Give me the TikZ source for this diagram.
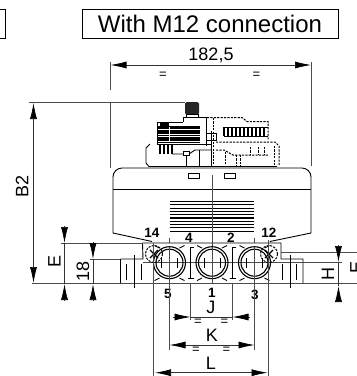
\documentclass[tikz,border=0pt]{standalone}
\usepackage{fontspec}
\setmainfont{Liberation Sans}
\usetikzlibrary{arrows.meta}
\tikzset{
    dimline/.style={line width=0.7pt, black!80},
    extline/.style={line width=0.7pt, black!70},
    partline/.style={line width=0.9pt, black},
    hiddenline/.style={line width=1pt, black, dash pattern=on 2.2pt off 1.2pt},
    dimtip/.style={-{Latex[length=16pt,width=7pt,black]}},
    bothtips/.style={{Latex[length=16pt,width=7pt,black]}-{Latex[length=16pt,width=7pt,black]}},
    dimlabel/.style={inner sep=0pt, font=\fontsize{18}{19}\selectfont},
    eqlabel/.style={inner sep=0pt, font=\fontsize{13}{14}\selectfont},
    portlabel/.style={inner sep=0pt, font=\fontsize{13.5}{14}\selectfont\bfseries}
}
\begin{document}
\begin{tikzpicture}[x=1pt, y=-1pt]
    \useasboundingbox (0,0) rectangle (357,376);
    % Title boxes
    \draw[partline] (-5,9) rectangle (5,38);
    \node[draw, line width=0.9pt, minimum width=256pt, minimum height=29pt, inner sep=0pt, font=\fontsize{24}{26}\selectfont] (title) at (210,23.5) {With M12 connection};
    % Housing
    \draw[partline] (152,241.5) -- (113,233) [rounded corners=9pt] -- (113,168) -- (311,168) [sharp corners] -- (311,233) -- (270,241.5);
    \draw[partline] (113,189.5) -- (311,189.5);
    \draw[partline] (188,173) rectangle (199,178);
    \draw[partline] (224,173) rectangle (235,178);
    \foreach \y in {201.5,204.8,...,232} {
        \draw[line width=1.1pt] (170,\y) -- (254,\y);
    }
    \draw[extline] (212,175) -- (212,247);
    % Actuator
    \fill[black!85, rounded corners=1.5pt] (185,102) rectangle (199,114.5);
    \draw[partline] (186,114.5) rectangle (198,117.5);
    \draw[partline] (183,122) -- (183,117.5) -- (206,117.5) -- (206,146);
    \draw[partline] (157,144) -- (157,122) -- (183,122);
    \foreach \y in {127,128.7,...,143} {
        \draw[line width=1.3pt] (157,\y) -- (200,\y);
    }
    \fill (160,123) rectangle (169,126);
    \draw[white, line width=0.8pt] (169,127) -- (169,142);
    \draw[partline] (157,144) -- (212,144);
    \draw[partline] (150,144) -- (146,148) -- (146,163) -- (149,166.5) -- (277,166.5);
    \foreach \x in {160,164,168,172} {
        \draw[line width=1.3pt] (\x,144) -- (\x,154);
    }
    \draw[partline] (172,154) -- (183,154) (189,154) -- (195,150) -- (211,150);
    \draw[partline] (183,151) rectangle (189,155);
    \draw[partline] (186,155) -- (186,166.5) (199,150) -- (199,166.5) (211,131) -- (211,166.5);
    \draw[partline] (206,133) -- (206,125) (206,140) -- (216,140) -- (216,133) -- (206,133);
    % Hidden part of the actuator
    \draw[hiddenline] (207,117.5) -- (242,117.5) -- (247,121.5) -- (268,121.5) -- (268,139);
    \draw[hiddenline] (213.5,118) -- (213.5,166);
    \draw[hiddenline] (216,142) -- (275,142) -- (279,146) -- (279,166);
    \draw[hiddenline] (274,146) -- (274,166);
    \draw[hiddenline] (216,150) -- (224,150) -- (233,155) -- (268,155);
    \draw[hiddenline] (225,152) -- (225,166);
    \draw[hiddenline] (236,155) -- (236,166) (240,155) -- (240,166);
    \draw[hiddenline] (250,147) -- (250,155) (258,147) -- (258,155) (264,147) -- (264,155);
    \foreach \x in {224,228,...,264} {
        \draw[line width=2.2pt] (\x,127) -- (\x,136);
        \draw[line width=0.9pt] (\x,127) -- (\x+4,127) (\x,136) -- (\x+4,136);
    }
    % Valve body
    \draw[partline] (120.5,259) -- (143,259) -- (142.5,243) -- (281,243) -- (281,259) -- (303,259) -- (303,283.7);
    \draw[partline] (120.5,259) -- (120.5,283.7);
    \draw[line width=1pt, black!70] (32,283.7) -- (357,283.7);
    \draw[extline] (143,262.7) -- (342,262.7);
    \foreach \x in {126,141.5,282,296} {
        \draw[line width=0.9pt] (\x,264) -- (\x,280);
    }
    \draw[partline] (134,255) -- (134,288);
    \draw[partline] (290,255) -- (290,288);
    % Ports
    \foreach \x in {169.5,212,254.5} {
        \draw[line width=1.1pt] (\x,262.7) circle[radius=16];
        \draw[line width=1.1pt] (\x,262.7) circle[radius=13.5];
        \draw[partline] (\x+10,248) -- (\x+15,245.5) (\x-10,248) -- (\x-15,245.5);
        \draw[partline] (\x+10,278) -- (\x+15,280.5) (\x-10,278) -- (\x-15,280.5);
        \draw[partline] (\x-8,258) -- (\x-8,268) (\x+8,258) -- (\x+8,268);
        \draw[extline] (\x,238) -- (\x,243) (\x,247) -- (\x,283);
    }
    \foreach \x in {190.5,232.5} {
        \draw[partline] (\x+3,247) -- (\x,247) -- (\x,278) -- (\x+3,278);
        \draw[partline] (\x-3,278) -- (\x,278);
    }
    % Pilot ports
    \foreach \x in {154,269} {
        \draw[hiddenline] (\x,254) circle[radius=8.5];
        \draw[line width=1.3pt] (\x-4,250) -- (\x+4,258) (\x+4,250) -- (\x-4,258);
    }
    % Port numbers
    \node[portlabel] (port14) at (152,233) {14};
    \node[portlabel] (port12) at (269,232.5) {12};
    \node[portlabel] (port4) at (189,238) {4};
    \node[portlabel] (port2) at (231,238) {2};
    \node[portlabel] (port5) at (168,293.5) {5};
    \node[portlabel] (port1) at (212,292.5) {1};
    \node[portlabel] (port3) at (255,294.5) {3};
    % Extension lines
    \draw[extline] (110.5,62) -- (110.5,90) (110.5,103) -- (110.5,168);
    \draw[extline] (311,62) -- (311,166);
    \draw[extline] (29,102) -- (185,102);
    \draw[extline] (61,243) -- (143,243);
    \draw[extline] (90,259) -- (120,259);
    \draw[extline] (281,252) -- (357,252);
    \foreach \x/\yend in {190.5/320, 232.5/320, 169.5/350, 254.5/350} {
        \draw[extline] (\x,284) -- (\x,\yend);
    }
    \draw[extline] (153.5,243) -- (153.5,376);
    \draw[extline] (268.5,240) -- (268.5,376);
    % Dimensions
    \coordinate (wleft) at (110.5,65);
    \coordinate (wright) at (311,65);
    \draw[dimline, bothtips] (wleft) -- (wright);
    \node[dimlabel] (wlabel) at (211,55) {182,5};
    \node[eqlabel] (weqa) at (163,75) {=};
    \node[eqlabel] (weqb) at (256.5,75) {=};
    \coordinate (btop) at (33.5,103);
    \coordinate (bbot) at (33.5,283);
    \draw[dimline, bothtips] (btop) -- (bbot);
    \node[dimlabel, rotate=90] (blabel) at (22,186) {B2};
    % outside arrows
    \foreach \x/\ya/\yb/\yc/\yd in {64.5/226/243/301/284, 93/242/259/301/284, 338.5/245/262/300/286} {
        \draw[dimline, dimtip] (\x,\ya) -- (\x,\yb);
        \draw[dimline, dimtip] (\x,\yc) -- (\x,\yd);
        \draw[dimline] (\x,\yb) -- (\x,\yd);
    }
    \node[dimlabel, rotate=90] (elabel) at (54.5,261) {E};
    \node[dimlabel, rotate=90] (tlabel) at (83,271) {18};
    \node[dimlabel, rotate=90] (hlabel) at (328,274) {H};
    \node[dimlabel, rotate=90] (flabel) at (356.5,267) {E};
    \draw[dimline, dimtip] (173,317) -- (190.5,317);
    \draw[dimline, dimtip] (250,317) -- (232.5,317);
    \draw[dimline] (190.5,317) -- (232.5,317);
    \node[dimlabel] (jlabel) at (211,307) {J};
    \node[eqlabel] (jeqa) at (198,322.5) {=};
    \node[eqlabel] (jeqb) at (224.5,322.5) {=};
    \draw[dimline, bothtips] (169.5,345) -- (254.5,345);
    \node[dimlabel] (klabel) at (212,335) {K};
    \node[eqlabel] (keqa) at (196,350.5) {=};
    \node[eqlabel] (keqb) at (226.5,350.5) {=};
    \draw[dimline, bothtips] (155,372.7) -- (267.5,372.7);
    \node[dimlabel] (llabel) at (211,363) {L};
\end{tikzpicture}
\end{document}
